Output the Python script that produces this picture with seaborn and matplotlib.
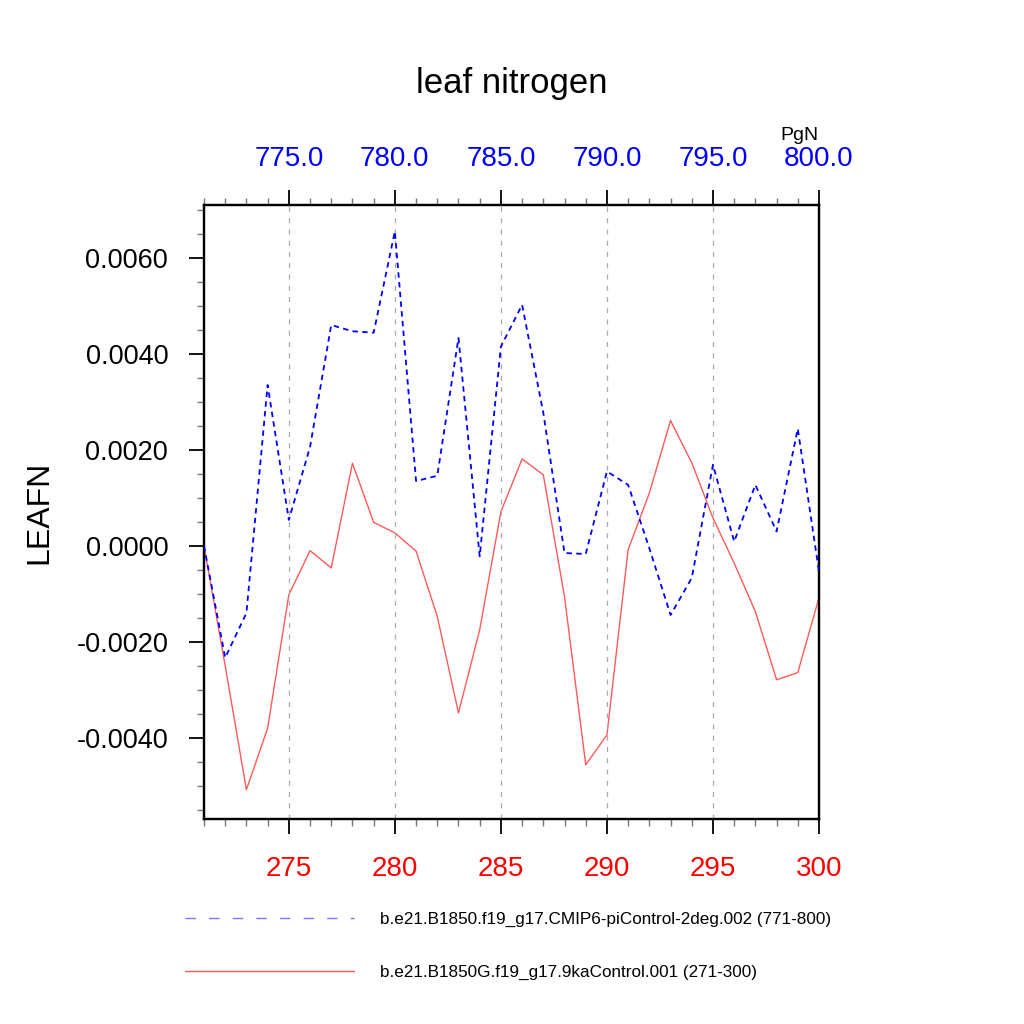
import numpy as np
import pandas as pd
import seaborn as sns
import matplotlib.pyplot as plt
from matplotlib.lines import Line2D
from matplotlib.ticker import MultipleLocator, FormatStrFormatter

# years of each run
years_9ka = list(range(271, 301))
years_pi = list(range(771, 801))

# LEAFN anomaly, 9ka control (red, bottom axis)
leafn_9ka = [0.0000, -0.0025, -0.00508, -0.0038, -0.00102, -0.00010, -0.00046, 0.00172,
             0.00049, 0.00027, -0.00011, -0.00147, -0.00348, -0.00175, 0.00071, 0.00181,
             0.00148, -0.00106, -0.00456, -0.00394, -0.00008, 0.00110, 0.00261, 0.00173,
             0.00058, -0.00036, -0.00137, -0.00279, -0.00264, -0.00108]

# LEAFN anomaly, piControl (blue, top axis)
leafn_pi = [0.0000, -0.00233, -0.00140, 0.00335, 0.00054, 0.00206, 0.00460, 0.00447,
            0.00444, 0.00655, 0.00135, 0.00146, 0.00433, -0.00022, 0.00415, 0.00502,
            0.00277, -0.00015, -0.00017, 0.00155, 0.00127, -0.00005, -0.00144, -0.00067,
            0.00169, 0.00009, 0.00127, 0.00030, 0.00244, -0.00054]

label_pi = "b.e21.B1850.f19_g17.CMIP6-piControl-2deg.002 (771-800)"
label_9ka = "b.e21.B1850G.f19_g17.9kaControl.001 (271-300)"

df_9ka = pd.DataFrame({"year": years_9ka, "LEAFN": leafn_9ka})
df_pi = pd.DataFrame({"year": years_pi, "LEAFN": leafn_pi})

sns.set_style("ticks")
plt.rcParams['font.family'] = ['Liberation Sans', 'DejaVu Sans']
plt.rcParams.update({"text.color": "black", "axes.labelcolor": "black",
                     "xtick.color": "black", "ytick.color": "black"})

fig = plt.figure(figsize=(10.24, 10.24), dpi=100)
ax = fig.add_axes([204 / 1024, 1 - 819 / 1024, 615 / 1024, 614 / 1024])

red = "#ff5a5a"
sns.lineplot(data=df_9ka, x="year", y="LEAFN", ax=ax, color=red, lw=1.0, zorder=3)

ax2 = ax.twiny()
sns.lineplot(data=df_pi, x="year", y="LEAFN", ax=ax2, color="blue", lw=1.3,
             linestyle=(0, (3.0, 2.4)), zorder=3)

ax.set_xlim(271, 300)
ax2.set_xlim(771, 800)
ax.set_ylim(-0.00569, 0.0071)

MAJ, MIN = 10.8, 5.0  # tick lengths in points (~15px, ~7px)

# bottom axis
ax.xaxis.set_major_locator(MultipleLocator(5))
ax.xaxis.set_minor_locator(MultipleLocator(1))
ax.tick_params(axis="x", which="major", direction="out", length=MAJ, width=1.3,
               labelsize=20, labelcolor="red", pad=16, top=False)
ax.tick_params(axis="x", which="minor", direction="out", length=MIN, width=1.0,
               color="#777777", top=False)
ax.set_xlabel("")

# top axis
ax2.xaxis.set_major_locator(MultipleLocator(5))
ax2.xaxis.set_minor_locator(MultipleLocator(1))
ax2.xaxis.set_major_formatter(FormatStrFormatter("%.1f"))
ax2.tick_params(axis="x", which="major", direction="out", length=MAJ, width=1.3,
                labelsize=20, labelcolor="blue", pad=13)
ax2.tick_params(axis="x", which="minor", direction="out", length=MIN, width=1.0,
                color="#777777")
ax2.set_xlabel("")

# y axis
ax.yaxis.set_major_locator(MultipleLocator(0.002))
ax.yaxis.set_minor_locator(MultipleLocator(0.0005))
ax.yaxis.set_major_formatter(FormatStrFormatter("%.4f"))
ax.tick_params(axis="y", which="major", direction="out", length=MAJ, width=1.3,
               labelsize=19.5, pad=15)
ax.tick_params(axis="y", which="minor", direction="out", length=MIN, width=1.0,
               color="#777777")
ax.set_ylabel("LEAFN", fontsize=23, labelpad=16)

for a in (ax, ax2):
    for s in a.spines.values():
        s.set_visible(True)
        s.set_linewidth(1.6)
        s.set_color("black")

# vertical dashed grid at top-axis majors
for xv in [775, 780, 785, 790, 795]:
    ax2.axvline(xv, color="#aaaaaa", lw=0.9, linestyle=(0, (4, 5)), zorder=1)

fig.text(511.5 / 1024, 1 - 83 / 1024, "leaf nitrogen", fontsize=25,
         ha="center", va="center")
fig.text(819 / 1024, 1 - 140 / 1024, "PgN", fontsize=14, ha="right", va="baseline")

handles = [
    Line2D([], [], color="#7777ff", lw=1.0, linestyle=(0, (7.5, 9.5))),
    Line2D([], [], color=red, lw=1.0),
]
fig.legend(handles, [label_pi, label_9ka], loc="center left",
           bbox_to_anchor=(185 / 1024, 1 - 946 / 1024), frameon=False,
           fontsize=12.3, handlelength=9.9, handletextpad=1.5,
           labelspacing=2.2, borderpad=0, borderaxespad=0)

fig.savefig("out.png", dpi=100)
